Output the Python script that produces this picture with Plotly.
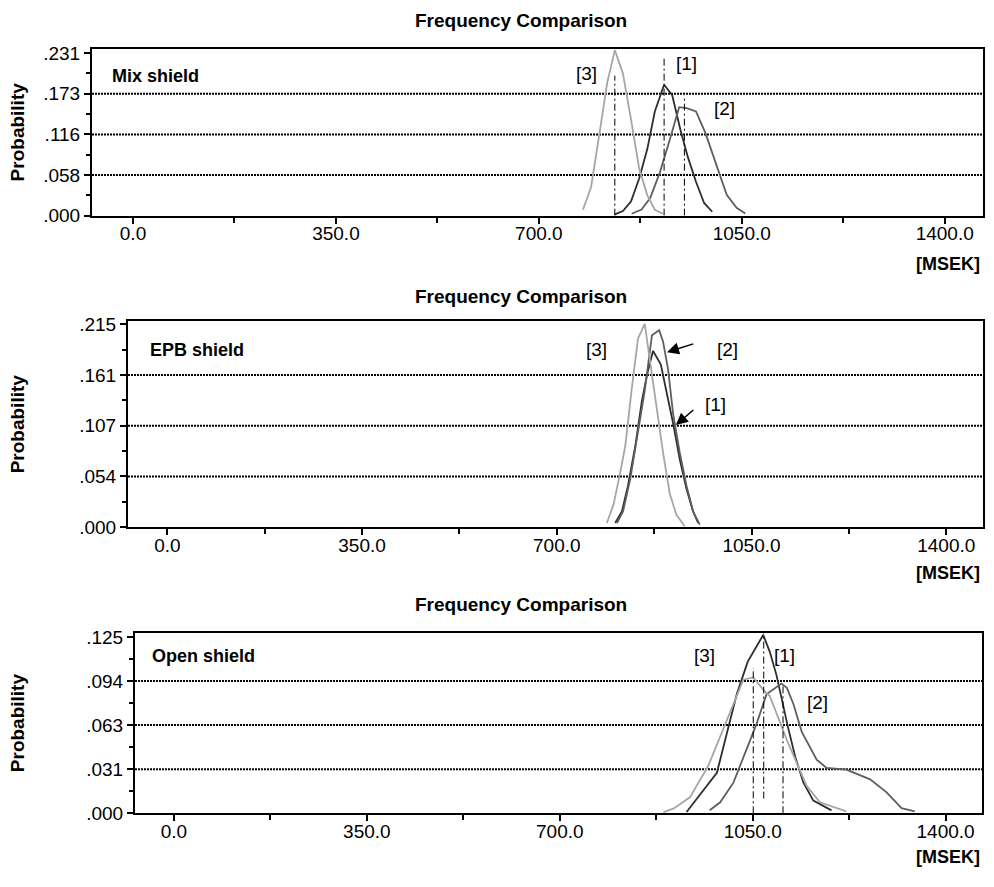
import plotly.graph_objects as go

# ---------------- data ----------------
panel_names = ["Mix shield", "EPB shield", "Open shield"]
series_names = ["[1]", "[2]", "[3]"]
series_colors = ["#2e2e2e", "#5e5e5e", "#a6a6a6"]

y_max = [0.231, 0.215, 0.125]
y_ticktext = [
    [".000", ".058", ".116", ".173", ".231"],
    [".000", ".054", ".107", ".161", ".215"],
    [".000", ".031", ".063", ".094", ".125"],
]
x_ticks = [0, 350, 700, 1050, 1400]
x_ticktext = ["0.0", "350.0", "700.0", "1050.0", "1400.0"]
x_minor = [175, 525, 875, 1225]

# Mix shield
mix1_x = [831, 845, 859, 873, 887, 900, 916, 930, 944, 957, 971, 985, 999]
mix1_y = [0.0018, 0.0065, 0.0205, 0.0529, 0.0947, 0.1481, 0.1862, 0.1713, 0.1226, 0.0832, 0.0483, 0.0181, 0.0056]
mix2_x = [860, 877, 892, 909, 926, 942, 955, 971, 987, 1004, 1024, 1041, 1056]
mix2_y = [0.0028, 0.0088, 0.0251, 0.0623, 0.1087, 0.1542, 0.1528, 0.1481, 0.1180, 0.0762, 0.0297, 0.0111, 0.0032]
mix3_x = [776, 790, 804, 818, 831, 845, 859, 873, 887, 900, 914]
mix3_y = [0.0084, 0.0404, 0.1142, 0.1894, 0.2354, 0.2020, 0.1365, 0.0669, 0.0293, 0.0084, 0.0028]

# EPB shield
epb1_x = [805, 817, 828, 841, 853, 863, 873, 887, 898, 909, 921, 933, 945, 954]
epb1_y = [0.0045, 0.0166, 0.0443, 0.0858, 0.1342, 0.1637, 0.1869, 0.1723, 0.1412, 0.1100, 0.0719, 0.0408, 0.0166, 0.0045]
epb2_x = [808, 819, 832, 844, 858, 871, 884, 891, 900, 909, 921, 933, 945, 957]
epb2_y = [0.0045, 0.0166, 0.0511, 0.0926, 0.1446, 0.2035, 0.2087, 0.1966, 0.1672, 0.1204, 0.0789, 0.0443, 0.0166, 0.0028]
epb3_x = [790, 802, 814, 823, 835, 846, 858, 873, 882, 891, 903, 915, 930]
epb3_y = [0.0045, 0.0242, 0.0581, 0.0858, 0.1481, 0.2000, 0.2156, 0.1550, 0.1135, 0.0789, 0.0356, 0.0132, 0.0010]

# Open shield
open1_x = [930, 985, 1003, 1021, 1041, 1069, 1081, 1093, 1114, 1127, 1142, 1160, 1193]
open1_y = [0.0009, 0.0287, 0.0565, 0.0843, 0.1075, 0.1264, 0.1144, 0.0981, 0.0611, 0.0403, 0.0217, 0.0090, 0.0021]
open2_x = [972, 991, 1015, 1039, 1057, 1075, 1102, 1112, 1124, 1139, 1166, 1184, 1220, 1263, 1293, 1320, 1344]
open2_y = [0.0021, 0.0078, 0.0217, 0.0449, 0.0634, 0.0843, 0.0919, 0.0889, 0.0773, 0.0577, 0.0380, 0.0322, 0.0310, 0.0241, 0.0148, 0.0037, 0.0014]
open3_x = [888, 906, 936, 969, 1003, 1033, 1051, 1069, 1081, 1112, 1130, 1148, 1172, 1220]
open3_y = [0.0009, 0.0033, 0.0113, 0.0333, 0.0658, 0.0947, 0.0963, 0.0877, 0.0831, 0.0519, 0.0356, 0.0194, 0.0078, 0.0014]

series_x = [[mix1_x, mix2_x, mix3_x], [epb1_x, epb2_x, epb3_x], [open1_x, open2_x, open3_x]]
series_y = [[mix1_y, mix2_y, mix3_y], [epb1_y, epb2_y, epb3_y], [open1_y, open2_y, open3_y]]

# mean markers (dash-dot verticals): x value, top, bottom
mean_x = [[916, 951, 831], [], [1070, 1105, 1051]]
mean_top = [[0.223, 0.171, 0.199], [], [0.135, 0.092, 0.103]]
mean_bottom = [[0.0, 0.0, 0.0], [], [0.0104, 0.0, 0.0]]

# series labels [1],[2],[3]: x, y
label_xy = [
    [(954, 0.216), (1021, 0.152), (783, 0.202)],
    [(986, 0.130), (1006, 0.188), (772, 0.188)],
    [(1108, 0.1118), (1168, 0.0785), (963, 0.1118)],
]

# ---------------- layout geometry ----------------
W, H = 994, 887
x_range = [-70.7, 1466]
y_top_factor = [1.025, 1.014, 1.022]
x_dom_px = [(92, 983), (128, 983), (135, 982)]
y_dom_px = [(43, 213), (321, 531), (639, 823)]
title_y_px = [14, 295, 610]
msek_y_px = [262, 578, 868]
name_pos_px = [(110, 70), (148, 350), (150, 662)]

FONT = "Arial, 'Liberation Sans', Helvetica, sans-serif"

fig = go.Figure()

for p in range(3):
    xa = "x" if p == 0 else f"x{p+1}"
    ya = "y" if p == 0 else f"y{p+1}"
    for s in range(3):
        fig.add_trace(go.Scatter(
            x=series_x[p][s], y=series_y[p][s], mode="lines",
            line=dict(color=series_colors[s], width=1.8),
            xaxis=xa, yaxis=ya, showlegend=False, name=series_names[s],
        ))
    for s in range(len(mean_x[p])):
        fig.add_trace(go.Scatter(
            x=[mean_x[p][s], mean_x[p][s]], y=[mean_bottom[p][s], mean_top[p][s]],
            mode="lines", line=dict(color="black", width=1, dash="7px,3px,2px,3px"),
            xaxis=xa, yaxis=ya, showlegend=False, hoverinfo="skip",
        ))
    # dotted gridlines at the interior ticks
    yt = [y_max[p] * k / 4 for k in range(5)]
    for v in yt[1:4]:
        fig.add_shape(type="line", xref=f"{xa} domain", yref=ya, x0=0, x1=1, y0=v, y1=v,
                      line=dict(color="black", width=2, dash="2px,1px"), layer="below")

    xd = [x_dom_px[p][0] / W, x_dom_px[p][1] / W]
    yd = [1 - y_dom_px[p][1] / H, 1 - y_dom_px[p][0] / H]
    minor_y = [y_max[p] * (2 * k + 1) / 8 for k in range(4)]
    xkey = "xaxis" if p == 0 else f"xaxis{p+1}"
    ykey = "yaxis" if p == 0 else f"yaxis{p+1}"
    fig.layout[xkey] = dict(
        domain=xd, range=x_range, anchor=ya, showgrid=False, zeroline=False,
        showline=True, linecolor="black", linewidth=2, mirror=True,
        ticks="outside", ticklen=6, tickwidth=1.5, tickcolor="black",
        tickmode="array", tickvals=x_ticks, ticktext=x_ticktext,
        tickfont=dict(family=FONT, size=19, color="black"),
        ticklabelstandoff=-6,
        minor=dict(tickmode="array", tickvals=x_minor, ticks="outside", ticklen=5,
                   tickwidth=1.5, tickcolor="black", showgrid=False),
        fixedrange=True,
    )
    fig.layout[ykey] = dict(
        domain=yd, range=[0, y_max[p] * y_top_factor[p]], anchor=xa, showgrid=False,
        zeroline=False, showline=True, linecolor="black", linewidth=2, mirror=True,
        ticks="outside", ticklen=6, tickwidth=1.5, tickcolor="black",
        tickmode="array", tickvals=yt, ticktext=y_ticktext[p],
        tickfont=dict(family=FONT, size=19, color="black"),
        minor=dict(tickmode="array", tickvals=minor_y, ticks="outside", ticklen=4,
                   tickwidth=1.5, tickcolor="black", showgrid=False),
        fixedrange=True,
    )

    # title
    fig.add_annotation(text="<b>Frequency Comparison</b>", xref="paper", yref="paper",
                       x=521 / W, y=1 - title_y_px[p] / H, showarrow=False,
                       xanchor="center", yanchor="middle",
                       font=dict(family=FONT, size=19, color="black"))
    # y-axis title
    fig.add_annotation(text="<b>Probability</b>", xref="paper", yref="paper",
                       x=17 / W, y=1 - (y_dom_px[p][0] + y_dom_px[p][1]) / 2 / H,
                       showarrow=False, textangle=-90, xanchor="center", yanchor="middle",
                       font=dict(family=FONT, size=19, color="black"))
    # unit label
    fig.add_annotation(text="<b>[MSEK]</b>", xref="paper", yref="paper",
                       x=982 / W, y=1 - msek_y_px[p] / H, showarrow=False,
                       xanchor="right", yanchor="middle",
                       font=dict(family=FONT, size=18, color="black"))
    # panel name
    fig.add_annotation(text=f"<b>{panel_names[p]}</b>", xref="paper", yref="paper",
                       x=name_pos_px[p][0] / W, y=1 - name_pos_px[p][1] / H, showarrow=False,
                       xanchor="left", yanchor="middle",
                       font=dict(family=FONT, size=18, color="black"))
    # series labels
    for s in range(3):
        lx, ly = label_xy[p][s]
        fig.add_annotation(text=series_names[s], x=lx, y=ly, xref=xa, yref=ya,
                           showarrow=False, xanchor="center", yanchor="middle",
                           font=dict(family=FONT, size=19, color="black"))

# arrows in the EPB panel (pointing to [2] and [1])
arrow_tips = [(898, 0.1855), (914, 0.1083)]
arrow_tails = [(948, 0.1948), (948, 0.1256)]
for (tx, ty), (sx, sy) in zip(arrow_tips, arrow_tails):
    fig.add_annotation(x=tx, y=ty, ax=sx, ay=sy, xref="x2", yref="y2", axref="x2", ayref="y2",
                       text="", showarrow=True, arrowhead=2, arrowsize=1.6, arrowwidth=1.5,
                       arrowcolor="black")

fig.update_layout(
    width=W, height=H, margin=dict(l=0, r=0, t=0, b=0),
    paper_bgcolor="white", plot_bgcolor="white", showlegend=False,
    font=dict(family=FONT, color="black"),
)

fig.write_html("out.html")
